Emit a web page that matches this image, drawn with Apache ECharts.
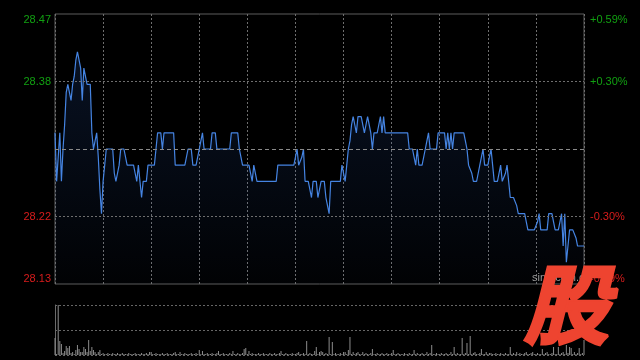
<!DOCTYPE html>
<html><head><meta charset="utf-8">
<script src="https://cdn.jsdelivr.net/npm/echarts@6/dist/echarts.min.js"></script>
<style>html,body{margin:0;padding:0;background:#000;}#c{width:640px;height:360px;}</style>
</head><body><div id="c"></div>
<script>
const prevClose = 28.30;
const rangePct = 0.59;
const leftLabels = ['28.13', '28.22', '', '28.38', '28.47'];
const rightLabels = ['-0.59%', '-0.30%', '', '+0.30%', '+0.59%'];

const price = [
  28.32, 28.26, 28.29, 28.32, 28.26, 28.30, 28.33, 28.37, 28.38, 28.38,
  28.36, 28.38, 28.39, 28.41, 28.42, 28.42, 28.40, 28.36, 28.40, 28.40,
  28.38, 28.38, 28.38, 28.32, 28.30, 28.31, 28.32, 28.29, 28.25, 28.22,
  28.26, 28.26, 28.30, 28.30, 28.30, 28.30, 28.30, 28.27, 28.26, 28.26,
  28.28, 28.30, 28.30, 28.30, 28.30, 28.28, 28.28, 28.28, 28.28, 28.28,
  28.27, 28.26, 28.28, 28.28, 28.24, 28.26, 28.26, 28.26, 28.28, 28.28,
  28.28, 28.28, 28.28, 28.30, 28.32, 28.32, 28.32, 28.30, 28.32, 28.32,
  28.32, 28.32, 28.32, 28.32, 28.32, 28.28, 28.28, 28.28, 28.28, 28.28,
  28.28, 28.28, 28.28, 28.30, 28.30, 28.30, 28.28, 28.28, 28.28, 28.28,
  28.30, 28.31, 28.32, 28.30, 28.30, 28.30, 28.30, 28.30, 28.32, 28.32,
  28.32, 28.30, 28.30, 28.30, 28.30, 28.30, 28.30, 28.30, 28.30, 28.30,
  28.32, 28.32, 28.32, 28.32, 28.32, 28.30, 28.29, 28.28, 28.28, 28.28,
  28.28, 28.28, 28.28, 28.26, 28.28, 28.28, 28.26, 28.26, 28.26, 28.26,
  28.26, 28.26, 28.26, 28.26, 28.26, 28.26, 28.26, 28.26, 28.26, 28.28,
  28.28, 28.28, 28.28, 28.28, 28.28, 28.28, 28.28, 28.28, 28.28, 28.28,
  28.28, 28.30, 28.28, 28.28, 28.29, 28.30, 28.26, 28.26, 28.26, 28.26,
  28.24, 28.26, 28.26, 28.26, 28.24, 28.24, 28.26, 28.26, 28.26, 28.24,
  28.24, 28.22, 28.26, 28.26, 28.26, 28.26, 28.26, 28.26, 28.26, 28.28,
  28.28, 28.26, 28.28, 28.30, 28.31, 28.33, 28.34, 28.33, 28.32, 28.34,
  28.34, 28.34, 28.34, 28.32, 28.33, 28.34, 28.34, 28.32, 28.30, 28.32,
  28.32, 28.32, 28.33, 28.34, 28.32, 28.34, 28.32, 28.32, 28.32, 28.32,
  28.32, 28.32, 28.32, 28.32, 28.32, 28.32, 28.32, 28.32, 28.32, 28.32,
  28.32, 28.30, 28.30, 28.30, 28.30, 28.28, 28.30, 28.28, 28.28, 28.28,
  28.28, 28.30, 28.31, 28.32, 28.30, 28.30, 28.30, 28.30, 28.30, 28.32,
  28.32, 28.32, 28.32, 28.32, 28.30, 28.32, 28.30, 28.32, 28.30, 28.32,
  28.32, 28.32, 28.32, 28.32, 28.32, 28.32, 28.31, 28.30, 28.28, 28.28,
  28.27, 28.26, 28.26, 28.26, 28.27, 28.28, 28.28, 28.30, 28.28, 28.28,
  28.28, 28.28, 28.30, 28.28, 28.26, 28.26, 28.26, 28.27, 28.28, 28.26,
  28.26, 28.27, 28.28, 28.26, 28.24, 28.24, 28.24, 28.24, 28.23, 28.22,
  28.22, 28.22, 28.22, 28.22, 28.21, 28.20, 28.20, 28.20, 28.20, 28.20,
  28.20, 28.21, 28.22, 28.20, 28.20, 28.20, 28.20, 28.20, 28.22, 28.22,
  28.22, 28.21, 28.20, 28.20, 28.20, 28.21, 28.22, 28.18, 28.22, 28.16,
  28.18, 28.20, 28.20, 28.20, 28.20, 28.19, 28.18, 28.18, 28.18, 28.18,
  28.18
];

const volume = [
  17, 1, 50, 14, 11, 2, 4, 9, 7, 9,
  2, 3, 1, 5, 10, 6, 3, 3, 8, 6,
  3, 15, 4, 8, 5, 3, 1, 3, 5, 1,
  2, 1, 1, 2, 1, 1, 2, 1, 1, 2,
  1, 1, 2, 1, 1, 1, 2, 1, 1, 1,
  2, 1, 1, 1, 2, 1, 1, 2, 1, 3,
  3, 1, 1, 2, 1, 1, 1, 2, 1, 1,
  2, 1, 1, 1, 2, 3, 1, 1, 3, 1,
  1, 2, 1, 1, 1, 2, 1, 1, 2, 1,
  5, 1, 4, 1, 1, 2, 1, 1, 2, 1,
  1, 2, 4, 1, 1, 2, 1, 1, 1, 2,
  1, 4, 1, 1, 2, 1, 1, 2, 6, 7,
  1, 4, 1, 2, 1, 1, 1, 2, 1, 1,
  2, 1, 1, 1, 2, 1, 1, 2, 1, 1,
  2, 4, 1, 1, 2, 1, 1, 1, 2, 1,
  1, 2, 3, 1, 1, 2, 1, 14, 1, 2,
  1, 1, 4, 8, 1, 3, 4, 3, 1, 2,
  1, 18, 1, 13, 1, 2, 1, 1, 2, 1,
  3, 3, 1, 5, 18, 1, 3, 1, 2, 3,
  1, 1, 3, 1, 2, 1, 1, 2, 6, 1,
  1, 2, 1, 1, 2, 1, 1, 2, 1, 1,
  2, 5, 1, 1, 2, 1, 1, 1, 2, 1,
  1, 2, 1, 1, 5, 1, 2, 1, 1, 2,
  1, 1, 3, 1, 2, 10, 1, 1, 2, 1,
  1, 2, 1, 1, 2, 1, 1, 3, 1, 8,
  1, 2, 1, 1, 17, 1, 2, 12, 1, 19,
  1, 2, 3, 1, 1, 2, 6, 1, 1, 3,
  1, 2, 2, 1, 1, 2, 1, 1, 2, 1,
  1, 2, 1, 1, 8, 1, 2, 1, 3, 1,
  2, 1, 1, 2, 3, 1, 1, 2, 3, 1,
  1, 2, 1, 1, 6, 1, 2, 3, 1, 1,
  2, 8, 1, 1, 8, 1, 2, 3, 1, 10,
  2, 8, 7, 1, 3, 1, 2, 7, 1, 2,
  15
];

const lastIndex = price.length - 1;
const step = prevClose * rangePct / 100 / 2;
const priceData = price.map((p, i) => [i, (p - prevClose) / step]);
const volData = volume.map((v, i) => [i, v]);
const volMax = Math.max.apply(null, volume);

const green = '#11a011';
const red = '#d81c1c';
const labelColor = v => (v > 0 ? green : (v < 0 ? red : '#888'));

const chart = echarts.init(document.getElementById('c'), null, { renderer: 'canvas' });
chart.setOption({
  backgroundColor: '#000',
  animation: false,
  grid: [
    { left: 55, top: 14, width: 529, height: 270, show: true, borderColor: '#5c5c5c', borderWidth: 1, backgroundColor: 'transparent' },
    { left: 55, top: 305, width: 529, height: 50 }
  ],
  xAxis: [
    { type: 'value', gridIndex: 0, min: 0, max: lastIndex, interval: 30,
      axisLine: { show: false }, axisTick: { show: false }, axisLabel: { show: false },
      splitLine: { show: true, lineStyle: { color: '#6e6e6e', type: [2, 2], width: 1 } } },
    { type: 'value', gridIndex: 1, min: 0, max: lastIndex,
      axisLine: { show: false }, axisTick: { show: false }, axisLabel: { show: false },
      splitLine: { show: false } }
  ],
  yAxis: [
    { type: 'value', gridIndex: 0, position: 'left', min: -2, max: 2, interval: 1,
      axisLine: { show: false }, axisTick: { show: false }, splitLine: { show: false },
      axisLabel: { margin: 4, fontSize: 11, fontFamily: 'Liberation Sans, Arial, sans-serif',
        color: labelColor,
        formatter: (v, i) => leftLabels[Math.round(v) + 2],
        verticalAlignMaxLabel: 'top', verticalAlignMinLabel: 'bottom' } },
    { type: 'value', gridIndex: 0, position: 'right', min: -2, max: 2, interval: 1,
      axisLine: { show: false }, axisTick: { show: false }, splitLine: { show: false },
      axisLabel: { margin: 6, fontSize: 11, fontFamily: 'Liberation Sans, Arial, sans-serif',
        color: labelColor,
        formatter: (v, i) => rightLabels[Math.round(v) + 2],
        verticalAlignMaxLabel: 'top', verticalAlignMinLabel: 'bottom' } },
    { type: 'value', gridIndex: 1, min: 0, max: volMax, interval: volMax / 2,
      axisLine: { show: true, lineStyle: { color: '#6a6a6a' } }, axisTick: { show: false },
      axisLabel: { show: false },
      splitLine: { show: true, lineStyle: { color: '#666', type: [2, 2] } } }
  ],
  series: [
    {
      type: 'line', xAxisIndex: 0, yAxisIndex: 0, data: priceData,
      showSymbol: false, symbol: 'none', silent: true,
      lineStyle: { color: '#4584e2', width: 1.2 },
      areaStyle: {
        origin: 'start',
        color: new echarts.graphic.LinearGradient(0, 0, 0, 1, [
          { offset: 0, color: 'rgba(45,95,190,0.26)' },
          { offset: 1, color: 'rgba(45,95,190,0.03)' }
        ])
      },
      markLine: {
        silent: true, symbol: ['none', 'none'], label: { show: false },
        animation: false,
        data: [
          { yAxis: 1, lineStyle: { color: '#6e6e6e', type: [2, 2], width: 1 } },
          { yAxis: -1, lineStyle: { color: '#6e6e6e', type: [2, 2], width: 1 } },
          { yAxis: 0, lineStyle: { color: '#8a8a8a', type: [4, 3], width: 1 } }
        ]
      },
      z: 3
    },
    {
      type: 'bar', xAxisIndex: 1, yAxisIndex: 2, data: volData,
      barWidth: 1, silent: true,
      itemStyle: { color: '#8c8c8c' }
    }
  ],
  graphic: [
    { type: 'text', left: 532, top: 272, z: 50,
      style: { text: 'sina.com.cn', fill: '#9a9a9a', font: '11px "Liberation Sans", Arial, sans-serif' } },
    { type: 'text', left: 522, top: 260, z: 100,
      style: { text: '股', fill: '#ee4430', stroke: '#ee4430', lineWidth: 3,
        font: 'italic bold 86px "Noto Sans CJK SC", sans-serif' } }
  ]
});
</script>
</body></html>
